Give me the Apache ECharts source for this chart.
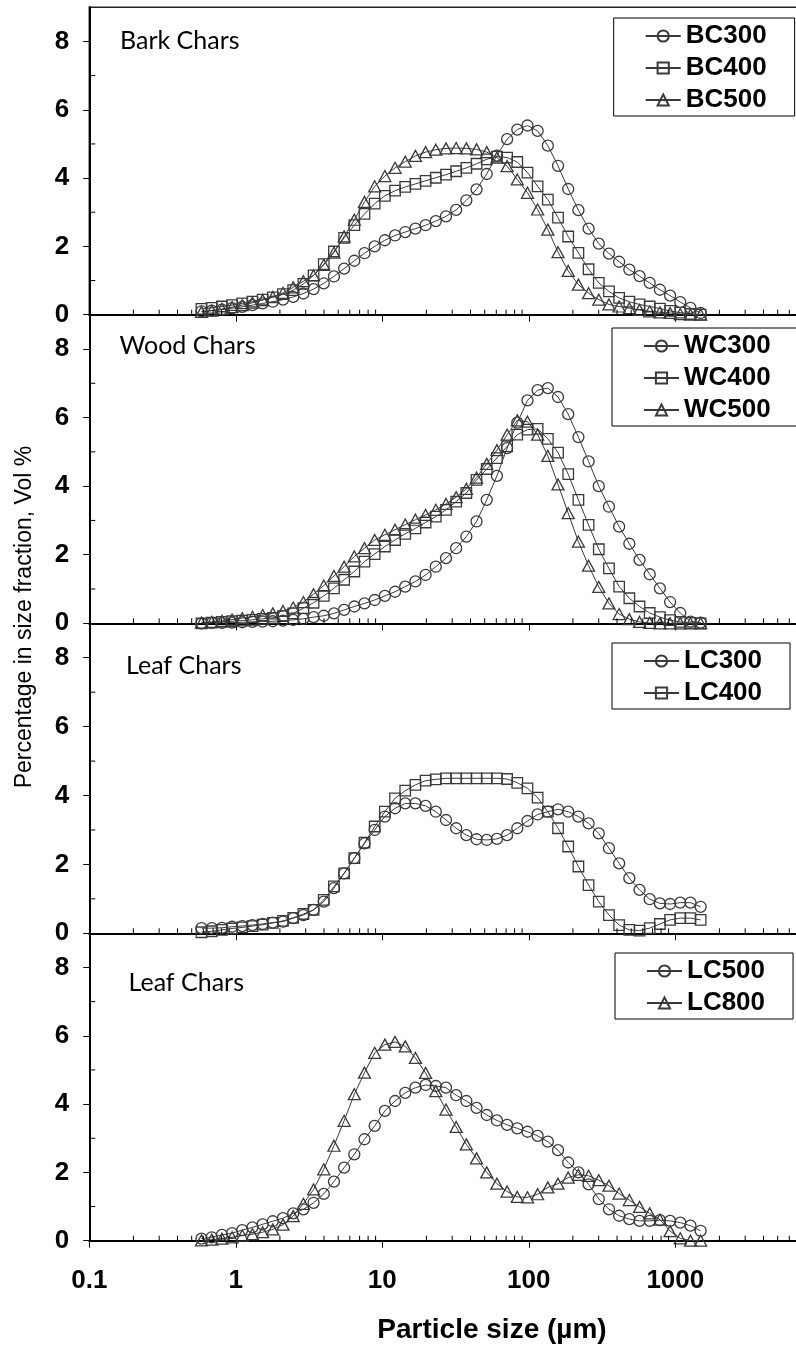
<!DOCTYPE html>
<html>
<head>
<meta charset="utf-8">
<script src="https://cdn.jsdelivr.net/npm/echarts@6/dist/echarts.min.js"></script>
<style>
html,body{margin:0;padding:0;background:#fff;}
#chart{width:796px;height:1348px;}
</style>
</head>
<body>
<div id="chart"></div>
<script>
// Particle sizes (µm)
const sizes = [0.583,0.685,0.804,0.943,1.107,1.299,1.525,1.789,2.100,2.465,2.893,3.395,3.985,4.677,5.489,6.442,7.560,8.872,10.41,12.22,14.34,16.83,19.75,23.18,27.21,31.93,37.48,43.98,51.62,60.58,71.10,83.44,97.95,114.9,134.9,158.3,185.8,218.1,255.9,300.4,352.5,413.7,485.6,569.9,668.8,785.0,921.3,1081,1269,1489];

const bc300 = [0.10,0.12,0.15,0.19,0.23,0.28,0.33,0.38,0.44,0.52, 0.62,0.75,0.92,1.12,1.35,1.58,1.80,2.00,2.18,2.32, 2.42,2.52,2.62,2.74,2.88,3.07,3.35,3.67,4.12,4.66, 5.14,5.42,5.54,5.38,4.95,4.36,3.68,3.06,2.52,2.08, 1.79,1.55,1.32,1.13,0.93,0.73,0.56,0.37,0.20,0.05];
const bc400 = [0.17,0.20,0.24,0.28,0.33,0.38,0.44,0.51,0.60,0.72, 0.90,1.15,1.48,1.85,2.25,2.62,2.95,3.25,3.48,3.63, 3.74,3.83,3.92,4.01,4.10,4.20,4.30,4.42,4.55,4.63, 4.60,4.47,4.16,3.76,3.37,2.84,2.29,1.81,1.33,0.93, 0.68,0.49,0.38,0.30,0.24,0.18,0.11,0.06,0.02,0.00];
const bc500 = [0.08,0.12,0.17,0.22,0.28,0.35,0.43,0.52,0.64,0.80, 0.98,1.15,1.46,1.82,2.29,2.78,3.30,3.76,4.06,4.30, 4.48,4.65,4.76,4.83,4.87,4.88,4.87,4.84,4.76,4.60, 4.35,3.96,3.57,3.08,2.49,1.83,1.28,0.88,0.63,0.44, 0.30,0.24,0.19,0.14,0.10,0.07,0.05,0.02,0.00,0.00];

const wc300 = [0.00,0.01,0.01,0.02,0.03,0.04,0.05,0.06,0.08,0.10, 0.13,0.18,0.22,0.29,0.39,0.49,0.58,0.68,0.80,0.92, 1.07,1.22,1.41,1.65,1.90,2.19,2.53,2.97,3.60,4.30, 5.11,5.85,6.50,6.80,6.86,6.60,6.10,5.43,4.72,4.00, 3.40,2.82,2.32,1.85,1.43,1.02,0.62,0.30,0.05,0.02];
const wc400 = [0.00,0.02,0.04,0.06,0.08,0.10,0.13,0.16,0.21,0.29, 0.44,0.60,0.80,1.02,1.27,1.51,1.80,2.02,2.24,2.43, 2.61,2.77,2.94,3.11,3.31,3.55,3.80,4.18,4.50,4.82, 5.16,5.50,5.65,5.67,5.38,4.98,4.35,3.60,2.87,2.16, 1.60,1.07,0.73,0.49,0.30,0.18,0.09,0.04,0.01,0.00];
const wc500 = [0.02,0.04,0.07,0.11,0.15,0.19,0.24,0.29,0.36,0.46, 0.62,0.85,1.10,1.38,1.65,1.95,2.19,2.43,2.58,2.73, 2.88,3.02,3.16,3.31,3.48,3.68,3.92,4.25,4.65,5.05, 5.50,5.92,5.88,5.50,4.88,4.05,3.21,2.38,1.68,1.06, 0.58,0.27,0.12,0.04,0.01,0.00,0.00,0.00,0.00,0.00];

const lc300 = [0.15,0.15,0.16,0.19,0.21,0.24,0.27,0.31,0.34,0.44, 0.53,0.68,0.92,1.31,1.74,2.18,2.61,3.00,3.39,3.63, 3.77,3.77,3.70,3.53,3.29,3.05,2.85,2.73,2.71,2.74, 2.85,3.05,3.26,3.45,3.53,3.60,3.53,3.39,3.19,2.90, 2.47,2.03,1.60,1.26,0.99,0.87,0.85,0.89,0.89,0.77];
const lc400 = [0.03,0.06,0.10,0.14,0.17,0.21,0.25,0.30,0.36,0.45, 0.56,0.68,0.97,1.36,1.74,2.18,2.63,3.10,3.53,3.92, 4.14,4.31,4.43,4.47,4.50,4.50,4.50,4.50,4.50,4.50, 4.48,4.37,4.21,3.94,3.53,3.05,2.52,1.94,1.40,0.92, 0.53,0.24,0.10,0.08,0.15,0.27,0.39,0.44,0.44,0.39];

const lc500 = [0.06,0.10,0.17,0.22,0.31,0.39,0.48,0.57,0.66,0.80, 0.92,1.11,1.37,1.73,2.14,2.53,2.97,3.36,3.80,4.09, 4.33,4.48,4.56,4.53,4.48,4.26,4.09,3.89,3.68,3.52, 3.39,3.29,3.19,3.07,2.90,2.65,2.29,2.00,1.65,1.22, 0.92,0.73,0.63,0.58,0.58,0.60,0.58,0.53,0.44,0.29];
const lc800 = [0.01,0.03,0.06,0.10,0.15,0.19,0.25,0.33,0.47,0.72, 1.08,1.50,2.09,2.78,3.51,4.29,4.92,5.50,5.74,5.82, 5.69,5.35,4.91,4.38,3.84,3.33,2.82,2.41,2.00,1.67, 1.44,1.28,1.27,1.36,1.56,1.67,1.85,1.93,1.90,1.77, 1.61,1.38,1.19,0.99,0.80,0.62,0.28,0.07,0.00,0.00];

const yTickValues = [0, 2, 4, 6, 8];
const yMinorValues = [1, 3, 5, 7];
const xTitle = 'Particle size (µm)';
const yTitle = 'Percentage in size fraction, Vol %';

const panels = [
  {label: 'Bark Chars', names: ['BC300','BC400','BC500'], data: [bc300, bc400, bc500], symbols: ['circle','rect','triangle']},
  {label: 'Wood Chars', names: ['WC300','WC400','WC500'], data: [wc300, wc400, wc500], symbols: ['circle','rect','triangle']},
  {label: 'Leaf Chars', names: ['LC300','LC400'], data: [lc300, lc400], symbols: ['circle','rect']},
  {label: 'Leaf Chars', names: ['LC500','LC800'], data: [lc500, lc800], symbols: ['circle','triangle']}
];

// layout
const gridTops = [7.3, 314.7, 623.3, 933.3];
const gridHeights = [307.4, 308.6, 310, 307.4];
const gridLeft = 89.3, gridWidth = 732.5;
const legendPos = [[613.7, 18], [612, 328], [612, 643], [615, 953]];
const labelPos = [[120, 41], [119.5, 346], [126, 666], [128.5, 983]];

const INK = '#3a3a3a';
const FONT = 'Liberation Sans, Arial, sans-serif';
const symSize = {circle: 11, rect: 10.5, triangle: [12, 11]};

// minor x ticks (2..9 per decade)
const xMinor = [];
for (let e = -1; e <= 3; e++) for (let m = 2; m <= 9; m++) xMinor.push(+(m * Math.pow(10, e)).toPrecision(3));

const grid = [], xAxis = [], yAxis = [], series = [], legend = [], graphic = [];

panels.forEach((p, k) => {
  const last = k === panels.length - 1;
  grid.push({left: gridLeft, top: gridTops[k], width: gridWidth, height: gridHeights[k],
    outerBoundsMode: 'none', containLabel: false,
    show: k === 0, borderColor: '#222', borderWidth: 1.5, backgroundColor: 'transparent'});
  xAxis.push({type: 'log', logBase: 10, gridIndex: k, min: 0.1, max: 10000,
    axisLine: {onZero: false, lineStyle: {color: '#000', width: 2}},
    axisTick: {show: true, inside: false, length: 7, lineStyle: {color: '#000', width: 1}},
    minorTick: {show: false}, splitLine: {show: false},
    axisLabel: {show: last, margin: 27, fontSize: 26, fontWeight: 'bold', color: '#000', fontFamily: FONT,
      hideOverlap: false,
      formatter: v => (+v >= 5000 ? '' : String(+(+v).toPrecision(6)))}
  });
  yAxis.push({type: 'value', gridIndex: k, min: 0, max: 9, interval: 2,
    axisLine: {show: true, lineStyle: {color: '#000', width: 2}},
    axisTick: {show: true, inside: false, length: 6, lineStyle: {color: '#000', width: 1}, customValues: yTickValues},
    splitLine: {show: false},
    axisLabel: {margin: 20, fontSize: 26, fontWeight: 'bold', color: '#000', fontFamily: FONT,
      customValues: yTickValues, formatter: v => (v % 2 === 0 && v <= 8) ? String(v) : ''}
  });
  p.names.forEach((name, j) => {
    series.push({
      type: 'line', name: name, xAxisIndex: k, yAxisIndex: k,
      data: sizes.map((s, i) => [s, p.data[j][i]]),
      symbol: p.symbols[j], symbolSize: symSize[p.symbols[j]], showSymbol: true, showAllSymbol: true,
      lineStyle: {color: INK, width: 1},
      itemStyle: {color: 'rgba(255,255,255,0)', borderColor: INK, borderWidth: 1.3},
      emphasis: {disabled: true}, animation: false, z: 3
    });
  });
  // minor ticks drawn on the axes through the axis scales
  const tickData = xMinor.map(v => [v, 0, 0]).concat(yMinorValues.map(v => [0.1, v, 1]));
  series.push({
    type: 'custom', xAxisIndex: k, yAxisIndex: k, silent: true, animation: false, z: 5,
    data: tickData,
    renderItem: (params, api) => {
      const kind = api.value(2);
      const pt = api.coord([api.value(0), api.value(1)]);
      if (kind === 0) {
        return {type: 'line', shape: {x1: pt[0], y1: pt[1], x2: pt[0], y2: pt[1] - 5}, style: {stroke: '#000', lineWidth: 1}};
      }
      return {type: 'line', shape: {x1: pt[0], y1: pt[1], x2: pt[0] + 6, y2: pt[1]}, style: {stroke: '#000', lineWidth: 1}};
    }
  });
  legend.push({
    data: p.names, orient: 'vertical', left: legendPos[k][0], top: legendPos[k][1],
    padding: [5, 28, 3, 31], itemGap: 6, itemWidth: 35, itemHeight: 14,
    borderColor: '#000', borderWidth: 1, backgroundColor: '#fff', selectedMode: false,
    textStyle: {fontSize: 26, lineHeight: 26, fontWeight: 'bold', color: '#000', fontFamily: FONT}
  });
  graphic.push({type: 'text', x: labelPos[k][0], y: labelPos[k][1], z: 10,
    style: {text: p.label, fontSize: 25, fontFamily: 'Lato, Carlito, sans-serif', fill: '#000', align: 'left', verticalAlign: 'middle'}});
});

graphic.push({type: 'text', x: 492, y: 1330, z: 10,
  style: {text: xTitle, fontSize: 28, fontWeight: 'bold', fontFamily: FONT, fill: '#000', align: 'center', verticalAlign: 'middle'}});
graphic.push({type: 'text', x: 25, y: 617, rotation: Math.PI / 2, z: 10,
  style: {text: yTitle, fontSize: 23, fontFamily: FONT, fill: '#000', align: 'center', verticalAlign: 'middle'}});

const chart = echarts.init(document.getElementById('chart'), null, {renderer: 'canvas'});
chart.setOption({
  animation: false,
  backgroundColor: '#fff',
  grid, xAxis, yAxis, series, legend, graphic
});
</script>
</body>
</html>
